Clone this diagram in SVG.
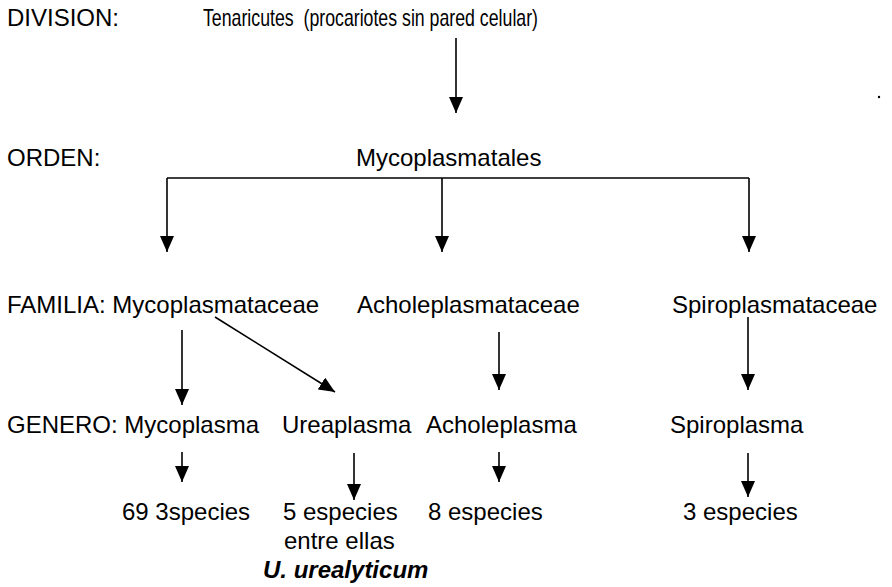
<svg xmlns="http://www.w3.org/2000/svg" width="892" height="587" viewBox="0 0 892 587">
<defs>
<marker id="ah" markerUnits="userSpaceOnUse" markerWidth="16" markerHeight="14" refX="16" refY="7" orient="auto" viewBox="0 0 16 14"><path d="M0,0 L16,7 L0,14 Z" fill="#000"/></marker>
</defs>
<style>
text{font-family:"Liberation Sans",Arial,sans-serif;font-size:24px;fill:#000}
.c{fill:none;stroke:#000;stroke-width:1.6}
.a{marker-end:url(#ah)}
.bi{font-weight:bold;font-style:italic}
</style>
<rect width="892" height="587" fill="#fff"/>
<g id="labels">
<text x="7" y="26">DIVISION:</text>
<text x="7" y="166">ORDEN:</text>
</g>
<g id="n-tenaricutes"><text x="203" y="26" xml:space="preserve" textLength="335" lengthAdjust="spacingAndGlyphs">Tenaricutes  (procariotes sin pared celular)</text></g>
<g id="n-mycoplasmatales"><text x="356" y="166">Mycoplasmatales</text></g>
<g id="n-mycoplasmataceae"><text x="7" y="313">FAMILIA: Mycoplasmataceae</text></g>
<g id="n-acholeplasmataceae"><text x="357" y="313">Acholeplasmataceae</text></g>
<g id="n-spiroplasmataceae"><text x="672" y="313">Spiroplasmataceae</text></g>
<g id="n-mycoplasma"><text x="7" y="433">GENERO: Mycoplasma</text></g>
<g id="n-ureaplasma"><text x="282" y="433">Ureaplasma</text></g>
<g id="n-acholeplasma"><text x="426" y="433">Acholeplasma</text></g>
<g id="n-spiroplasma"><text x="670" y="433">Spiroplasma</text></g>
<g id="n-sp-myco"><text x="122" y="520">69 3species</text></g>
<g id="n-sp-urea"><text x="283" y="520">5 especies</text><text x="284" y="549">entre ellas</text><text class="bi" x="263" y="578">U. urealyticum</text></g>
<g id="n-sp-achole"><text x="428" y="520">8 especies</text></g>
<g id="n-sp-spiro"><text x="683" y="520">3 especies</text></g>
<g id="connectors">
<path class="c a" d="M456,38 V113"/>
<path class="c" d="M167,178 H749"/>
<path class="c a" d="M167,178 V252"/>
<path class="c a" d="M442,178 V252"/>
<path class="c a" d="M749,178 V252"/>
<path class="c a" d="M182,330 V405"/>
<path class="c a" d="M215,317 L335,392"/>
<path class="c a" d="M499,332 V390"/>
<path class="c a" d="M748,317 V390"/>
<path class="c a" d="M182,452 V482"/>
<path class="c a" d="M354,453 V500"/>
<path class="c a" d="M499,452 V482"/>
<path class="c a" d="M748,453 V497"/>
</g>
<circle cx="879" cy="97" r="1.2" fill="#000"/>
</svg>
